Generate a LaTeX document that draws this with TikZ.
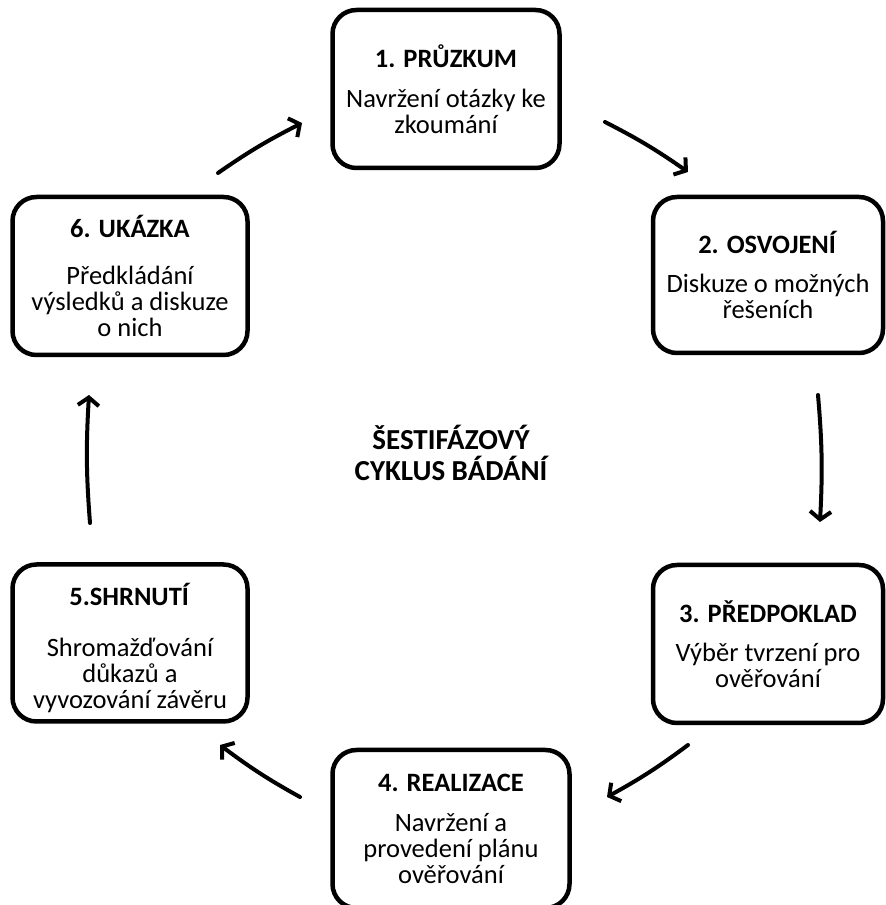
\documentclass[tikz,border=0pt]{standalone}
\usepackage{fontspec}
\setmainfont{Carlito}
\usetikzlibrary{arrows.meta,bending}
\begin{document}
\begin{tikzpicture}[x=1pt,y=1pt,
  stagebox/.style={draw=black, line width=4.5pt, rounded corners=24pt, inner sep=0pt,
    align=center, font=\fontsize{26.5}{26}\selectfont},
  cyc/.style={line width=4pt, -{Straight Barb[length=8pt,width=21pt,line width=4pt]}, line cap=round},
  centre/.style={align=center, font=\fontsize{29}{31}\selectfont\bfseries}
]
\useasboundingbox (0,0) rectangle (886,905);
\node[stagebox, minimum width=227pt, minimum height=158pt] (b1) at (446,816)
  {\textbf{1. PRŮZKUM}\\[14pt] Navržení otázky ke\\ zkoumání};
\node[stagebox, minimum width=230pt, minimum height=156pt] (b2) at (768,630)
  {\textbf{2. OSVOJENÍ}\\[13pt] Diskuze o možných\\ řešeních};
\node[stagebox, minimum width=230pt, minimum height=158pt] (b3) at (768,261)
  {\textbf{3. PŘEDPOKLAD}\\[13pt] Výběr tvrzení pro\\ ověřování};
\node[stagebox, minimum width=237pt, minimum height=158pt] (b4) at (451,76)
  {\textbf{4. REALIZACE}\\[14pt] Navržení a\\ provedení plánu\\ ověřování};
\node[stagebox, minimum width=235pt, minimum height=157pt] (b5) at (130,262)
  {\rule{0pt}{32pt}\textbf{5.SHRNUTÍ}\\[25pt] Shromažďování\\ důkazů a\\ vyvozování závěru};
\node[stagebox, minimum width=235pt, minimum height=158pt] (b6) at (130,629)
  {\textbf{6. UKÁZKA}\\[21pt] Předkládání\\ výsledků a diskuze\\ o nich};
\node[centre] (mid) at (451,452) {ŠESTIFÁZOVÝ\\ CYKLUS BÁDÁNÍ};

\coordinate (a1s) at (218,732); \coordinate (a1e) at (302,782);
\coordinate (a2s) at (605,783); \coordinate (a2e) at (688,733);
\coordinate (a3s) at (818,510); \coordinate (a3e) at (820,383);
\coordinate (a4s) at (688,160); \coordinate (a4e) at (607,108);
\coordinate (a5s) at (300,108); \coordinate (a5e) at (220,160);
\coordinate (a6s) at (90,382);  \coordinate (a6e) at (89,510);

\draw[cyc] (a1s) to[bend left=4] (a1e);
\draw[cyc] (a2s) to[bend left=4] (a2e);
\draw[cyc] (a3s) to[bend left=4] (a3e);
\draw[cyc] (a4s) to[bend left=4] (a4e);
\draw[cyc] (a5s) to[bend left=4] (a5e);
\draw[cyc] (a6s) to[bend left=4] (a6e);
\end{tikzpicture}
\end{document}
